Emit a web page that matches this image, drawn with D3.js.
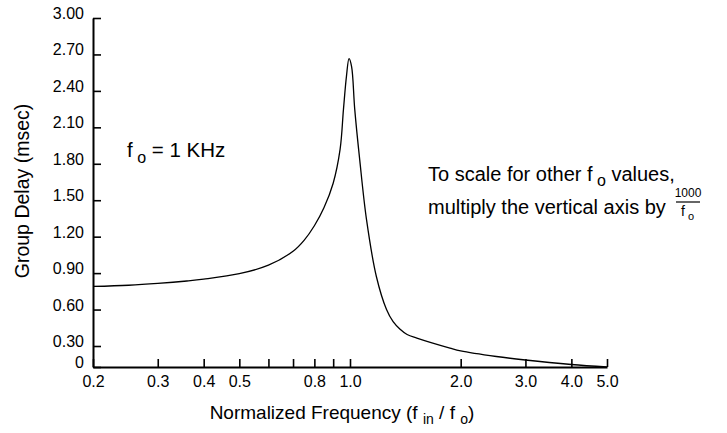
<!DOCTYPE html>
<html>
<head>
<meta charset="utf-8">
<script src="https://cdn.jsdelivr.net/npm/d3@7"></script>
<style>
  html, body { margin: 0; padding: 0; background: #fff; }
  svg { display: block; font-family: "Liberation Sans", Arial, Helvetica, sans-serif; }
</style>
</head>
<body>
<svg id="chart" width="727" height="433"></svg>
<script>
// Normalized frequency (f_in / f_o) and group delay in msec for f_o = 1 kHz
const freq  = [0.2, 0.25, 0.3, 0.36, 0.4, 0.5, 0.6, 0.7, 0.75, 0.8, 0.85, 0.9, 0.94, 0.96, 0.978,
               0.994, 1.01, 1.03, 1.063, 1.109, 1.18, 1.257, 1.31, 1.366, 1.43, 1.52, 1.87, 2.0, 2.5, 3.0, 4.0, 5.0];
const delay = [0.79, 0.80, 0.815, 0.835, 0.85, 0.895, 0.965, 1.08, 1.17, 1.29, 1.44, 1.64, 1.92, 2.25, 2.52,
               2.665, 2.60, 2.25, 1.83, 1.34, 0.87, 0.60, 0.50, 0.44, 0.395, 0.365, 0.27, 0.23, 0.15, 0.10, 0.036, 0.0];

// Axis ticks
const xTicks  = [0.2, 0.3, 0.4, 0.5, 0.6, 0.7, 0.8, 0.9, 1.0, 2.0, 3.0, 4.0, 5.0];
const xLabels = ["0.2", "0.3", "0.4", "0.5", "", "", "0.8", "", "1.0", "2.0", "3.0", "4.0", "5.0"];
const yTicks  = [0, 0.3, 0.6, 0.9, 1.2, 1.5, 1.8, 2.1, 2.4, 2.7, 3.0];
const yLabels = ["0", "0.30", "0.60", "0.90", "1.20", "1.50", "1.80", "2.10", "2.40", "2.70", "3.00"];

const svg = d3.select("#chart");

const x = d3.scaleLog().domain([0.2, 5]).range([93, 607]);
// the bottom band (0 to 0.30) of the delay axis is compressed
const y = d3.scaleLinear().domain([0, 0.3, 3.0]).range([367, 346, 18]);

// y axis, ticks pointing inward
const yAxis = svg.append("g")
  .attr("transform", `translate(${x(0.2)},0)`)
  .call(d3.axisLeft(y).tickValues(yTicks).tickSize(-8).tickSizeOuter(0).tickPadding(9)
    .tickFormat((d, i) => yLabels[i]));
yAxis.select(".domain").attr("stroke", "#000").attr("stroke-width", 2);
yAxis.selectAll(".tick line").attr("stroke", "#000").attr("stroke-width", 1.6);
yAxis.selectAll(".tick text").attr("fill", "#000").attr("font-size", 16).attr("dy", "0.03em")
  .attr("font-family", "Liberation Sans, Arial, sans-serif");

// x axis, ticks pointing up
const xAxis = svg.append("g")
  .attr("transform", `translate(0,${y(0)})`)
  .call(d3.axisBottom(x).tickValues(xTicks).tickSize(-8).tickSizeOuter(0).tickPadding(9)
    .tickFormat((d, i) => xLabels[i]));
xAxis.select(".domain").attr("stroke", "#000").attr("stroke-width", 2);
xAxis.selectAll(".tick line").attr("stroke", "#000").attr("stroke-width", 1.6);
xAxis.selectAll(".tick text").attr("fill", "#000").attr("font-size", 16)
  .attr("font-family", "Liberation Sans, Arial, sans-serif");

// group delay curve
const line = d3.line()
  .x((d, i) => x(freq[i]))
  .y((d, i) => y(delay[i]))
  .curve(d3.curveCatmullRom.alpha(0.5));
svg.append("path")
  .datum(delay)
  .attr("d", line)
  .attr("fill", "none")
  .attr("stroke", "#000")
  .attr("stroke-width", 1.3);

// axis titles
const xTitle = svg.append("text")
  .attr("x", 342).attr("y", 419)
  .attr("text-anchor", "middle").attr("font-size", 19).attr("fill", "#000");
xTitle.append("tspan").text("Normalized Frequency (f ");
xTitle.append("tspan").attr("font-size", 14).attr("dy", 5).text("in");
xTitle.append("tspan").attr("dy", -5).text(" / f ");
xTitle.append("tspan").attr("font-size", 14).attr("dy", 5).text("o");
xTitle.append("tspan").attr("dy", -5).text(")");

svg.append("text")
  .attr("transform", "translate(29,191) rotate(-90)")
  .attr("text-anchor", "middle").attr("font-size", 19.5).attr("fill", "#000")
  .text("Group Delay (msec)");

// f_o note
const fo = svg.append("text").attr("x", 127).attr("y", 157).attr("font-size", 20.5).attr("fill", "#000");
fo.append("tspan").text("f");
fo.append("tspan").attr("font-size", 16).attr("dy", 6).text(" o");
fo.append("tspan").attr("dy", -6).text(" = 1 KHz");

// scaling note
const n1 = svg.append("text").attr("x", 428).attr("y", 181).attr("font-size", 20).attr("fill", "#000");
n1.append("tspan").text("To scale for other f");
n1.append("tspan").attr("font-size", 16).attr("dy", 5).text(" o");
n1.append("tspan").attr("dy", -5).text(" values,");

svg.append("text").attr("x", 428).attr("y", 214).attr("font-size", 20).attr("fill", "#000")
  .text("multiply the vertical axis by");

// 1000 / f_o fraction
svg.append("text").attr("x", 688).attr("y", 197).attr("text-anchor", "middle")
  .attr("font-size", 12).attr("fill", "#000").text("1000");
svg.append("line").attr("x1", 676).attr("x2", 700).attr("y1", 202).attr("y2", 202)
  .attr("stroke", "#000").attr("stroke-width", 1.2);
const den = svg.append("text").attr("x", 681).attr("y", 216).attr("font-size", 14).attr("fill", "#000");
den.append("tspan").text("f");
den.append("tspan").attr("font-size", 11).attr("dy", 4).text(" o");
</script>
</body>
</html>
